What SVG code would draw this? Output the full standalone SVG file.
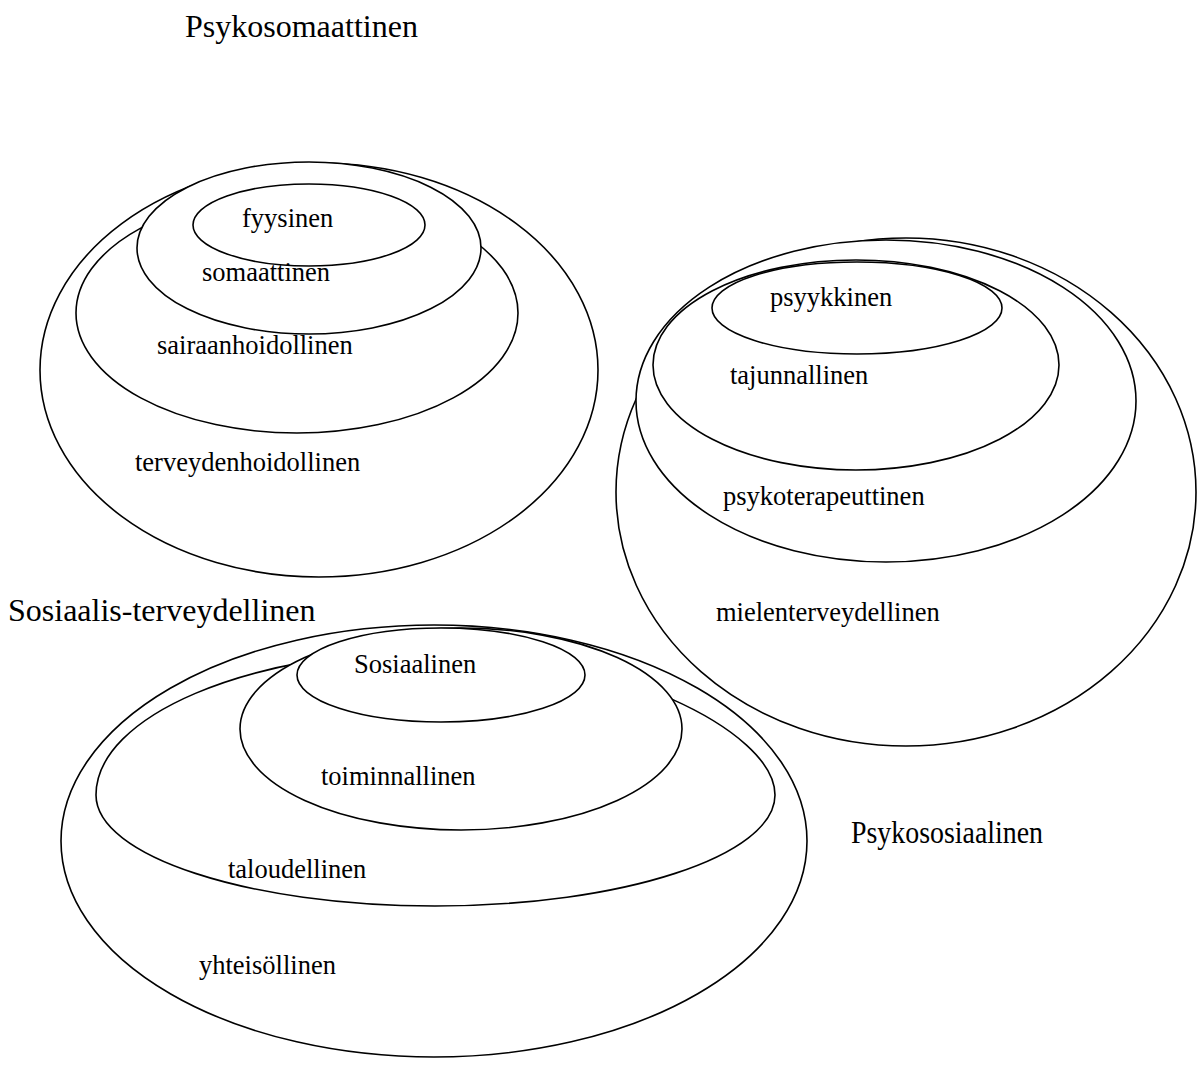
<svg xmlns="http://www.w3.org/2000/svg" width="1199" height="1084" viewBox="0 0 1199 1084">
<style>
.sh{fill:#fff;stroke:#000;stroke-width:1.6}
.t{font-family:"Liberation Serif","Times New Roman",serif;font-size:26.5px;fill:#000}
.big{font-family:"Liberation Serif","Times New Roman",serif;font-size:32px;fill:#000}
</style>
<rect width="1199" height="1084" fill="#fff"/>
<g id="title-psykosomaattinen"><text class="big" x="185" y="37">Psykosomaattinen</text></g>
<g id="title-sosiaalis-terveydellinen"><text class="big" x="8" y="621">Sosiaalis-terveydellinen</text></g>
<g id="title-psykososiaalinen"><text class="big" x="851" y="843" textLength="192" lengthAdjust="spacingAndGlyphs">Psykososiaalinen</text></g>

<g id="terveydenhoidollinen"><ellipse class="sh" cx="319" cy="370" rx="279" ry="207"/></g>
<g id="sairaanhoidollinen"><ellipse class="sh" cx="297" cy="313" rx="221" ry="120"/></g>
<g id="somaattinen"><ellipse class="sh" cx="309" cy="248" rx="172" ry="86"/></g>
<g id="fyysinen"><ellipse class="sh" cx="309" cy="225" rx="116" ry="41"/></g>

<g id="mielenterveydellinen"><ellipse class="sh" cx="906" cy="492" rx="290" ry="254"/></g>
<g id="psykoterapeuttinen"><ellipse class="sh" cx="886" cy="401" rx="250" ry="161"/></g>
<g id="tajunnallinen"><ellipse class="sh" cx="856" cy="365" rx="203" ry="105"/></g>
<g id="psyykkinen"><ellipse class="sh" cx="857" cy="308" rx="145" ry="46"/></g>

<g id="yhteisollinen"><ellipse class="sh" cx="434" cy="841" rx="373" ry="216"/></g>
<g id="taloudellinen"><path class="sh" d="M96,795 C96,856 248,906 435,906 C622,906 775,856 775,795 C775,730 610,651 435,651 C248,651 96,716 96,795 Z"/></g>
<g id="toiminnallinen"><ellipse class="sh" cx="461" cy="729" rx="221" ry="101"/></g>
<g id="sosiaalinen"><ellipse class="sh" cx="441" cy="675" rx="144" ry="47"/></g>

<g id="labels">
<text class="t" x="242" y="227">fyysinen</text>
<text class="t" x="202" y="281">somaattinen</text>
<text class="t" x="157" y="354">sairaanhoidollinen</text>
<text class="t" x="135" y="471">terveydenhoidollinen</text>
<text class="t" x="770" y="306">psyykkinen</text>
<text class="t" x="730" y="384">tajunnallinen</text>
<text class="t" x="723" y="505">psykoterapeuttinen</text>
<text class="t" x="716" y="621">mielenterveydellinen</text>
<text class="t" x="354" y="673">Sosiaalinen</text>
<text class="t" x="321" y="785">toiminnallinen</text>
<text class="t" x="228" y="878">taloudellinen</text>
<text class="t" x="199" y="974">yhteisöllinen</text>
</g>
<g id="connectors"/>
</svg>
